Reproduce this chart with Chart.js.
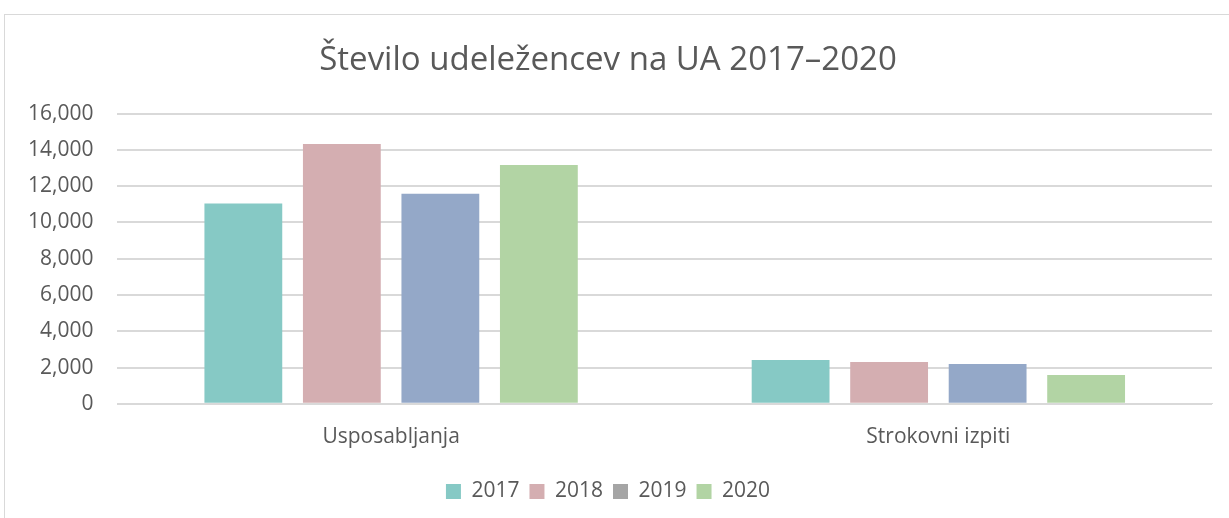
<!DOCTYPE html>
<html>
<head>
<meta charset="utf-8">
<script src="https://cdn.jsdelivr.net/npm/chart.js@4"></script>
<style>
  html, body { margin: 0; padding: 0; background: #fff; }
  #frame {
    position: absolute; left: 4px; top: 14px; width: 1240px; height: 520px;
    border: 1px solid #d9d9d9; box-sizing: border-box;
  }
  #wrap { position: absolute; left: 0; top: 0; width: 1229px; height: 518px; }
</style>
</head>
<body>
<div id="frame"></div>
<div id="wrap"><canvas id="chart1"></canvas></div>
<script>
const categories = ['Usposabljanja', 'Strokovni izpiti'];
const years = ['2017', '2018', '2019', '2020'];
const values2017 = [11050, 2420];
const values2018 = [14330, 2310];
const values2019 = [11580, 2200];
const values2020 = [13170, 1590];
const yTicks = [0, 2000, 4000, 6000, 8000, 10000, 12000, 14000, 16000];

const barColors = ['#86c9c5', '#d4aeb1', '#94a8c8', '#b2d4a4'];
// legend swatch of 2019 is grey in the original
const legendColors = ['#86c9c5', '#d4aeb1', '#a5a5a5', '#b2d4a4'];
const textColor = '#595959';

const ctx1 = document.getElementById('chart1');

new Chart(ctx1, {
    type: 'bar',
    data: {
        labels: categories,
        datasets: [values2017, values2018, values2019, values2020].map((vals, i) => ({
            label: years[i],
            data: vals,
            backgroundColor: barColors[i],
            borderWidth: 0,
            barPercentage: 0.79,
            categoryPercentage: 0.72
        }))
    },
    options: {
        responsive: true,
        maintainAspectRatio: false,
        animation: false,
        layout: { padding: { left: 4, right: 17, top: 0, bottom: 6 } },
        plugins: {
            title: {
                display: true,
                text: 'Število udeležencev na UA 2017–2020',
                color: textColor,
                font: { family: 'Open Sans', size: 33, weight: 'normal' },
                padding: { top: 41, bottom: 33 }
            },
            legend: {
                position: 'bottom',
                labels: {
                    color: textColor,
                    font: { family: 'Open Sans', size: 21 },
                    boxWidth: 15,
                    boxHeight: 15,
                    padding: 10,
                    generateLabels: (chart) => years.map((y, i) => ({
                        text: y,
                        fillStyle: legendColors[i],
                        strokeStyle: legendColors[i],
                        lineWidth: 0,
                        fontColor: textColor,
                        datasetIndex: i
                    }))
                }
            },
            tooltip: { enabled: false }
        },
        scales: {
            x: {
                grid: { display: false, drawTicks: false },
                border: { display: true, color: '#d9d9d9', width: 1 },
                ticks: {
                    color: textColor,
                    font: { family: 'Open Sans', size: 21 },
                    padding: 21
                }
            },
            y: {
                min: 0,
                max: 16000,
                afterBuildTicks: (scale) => { scale.ticks = yTicks.map(v => ({ value: v })); },
                grid: { color: '#d9d9d9', lineWidth: 2, drawTicks: false },
                border: { display: false },
                ticks: {
                    color: textColor,
                    font: { family: 'Open Sans', size: 21 },
                    padding: 24,
                    callback: (v) => v.toLocaleString('en-US')
                }
            }
        }
    }
});
</script>
</body>
</html>
